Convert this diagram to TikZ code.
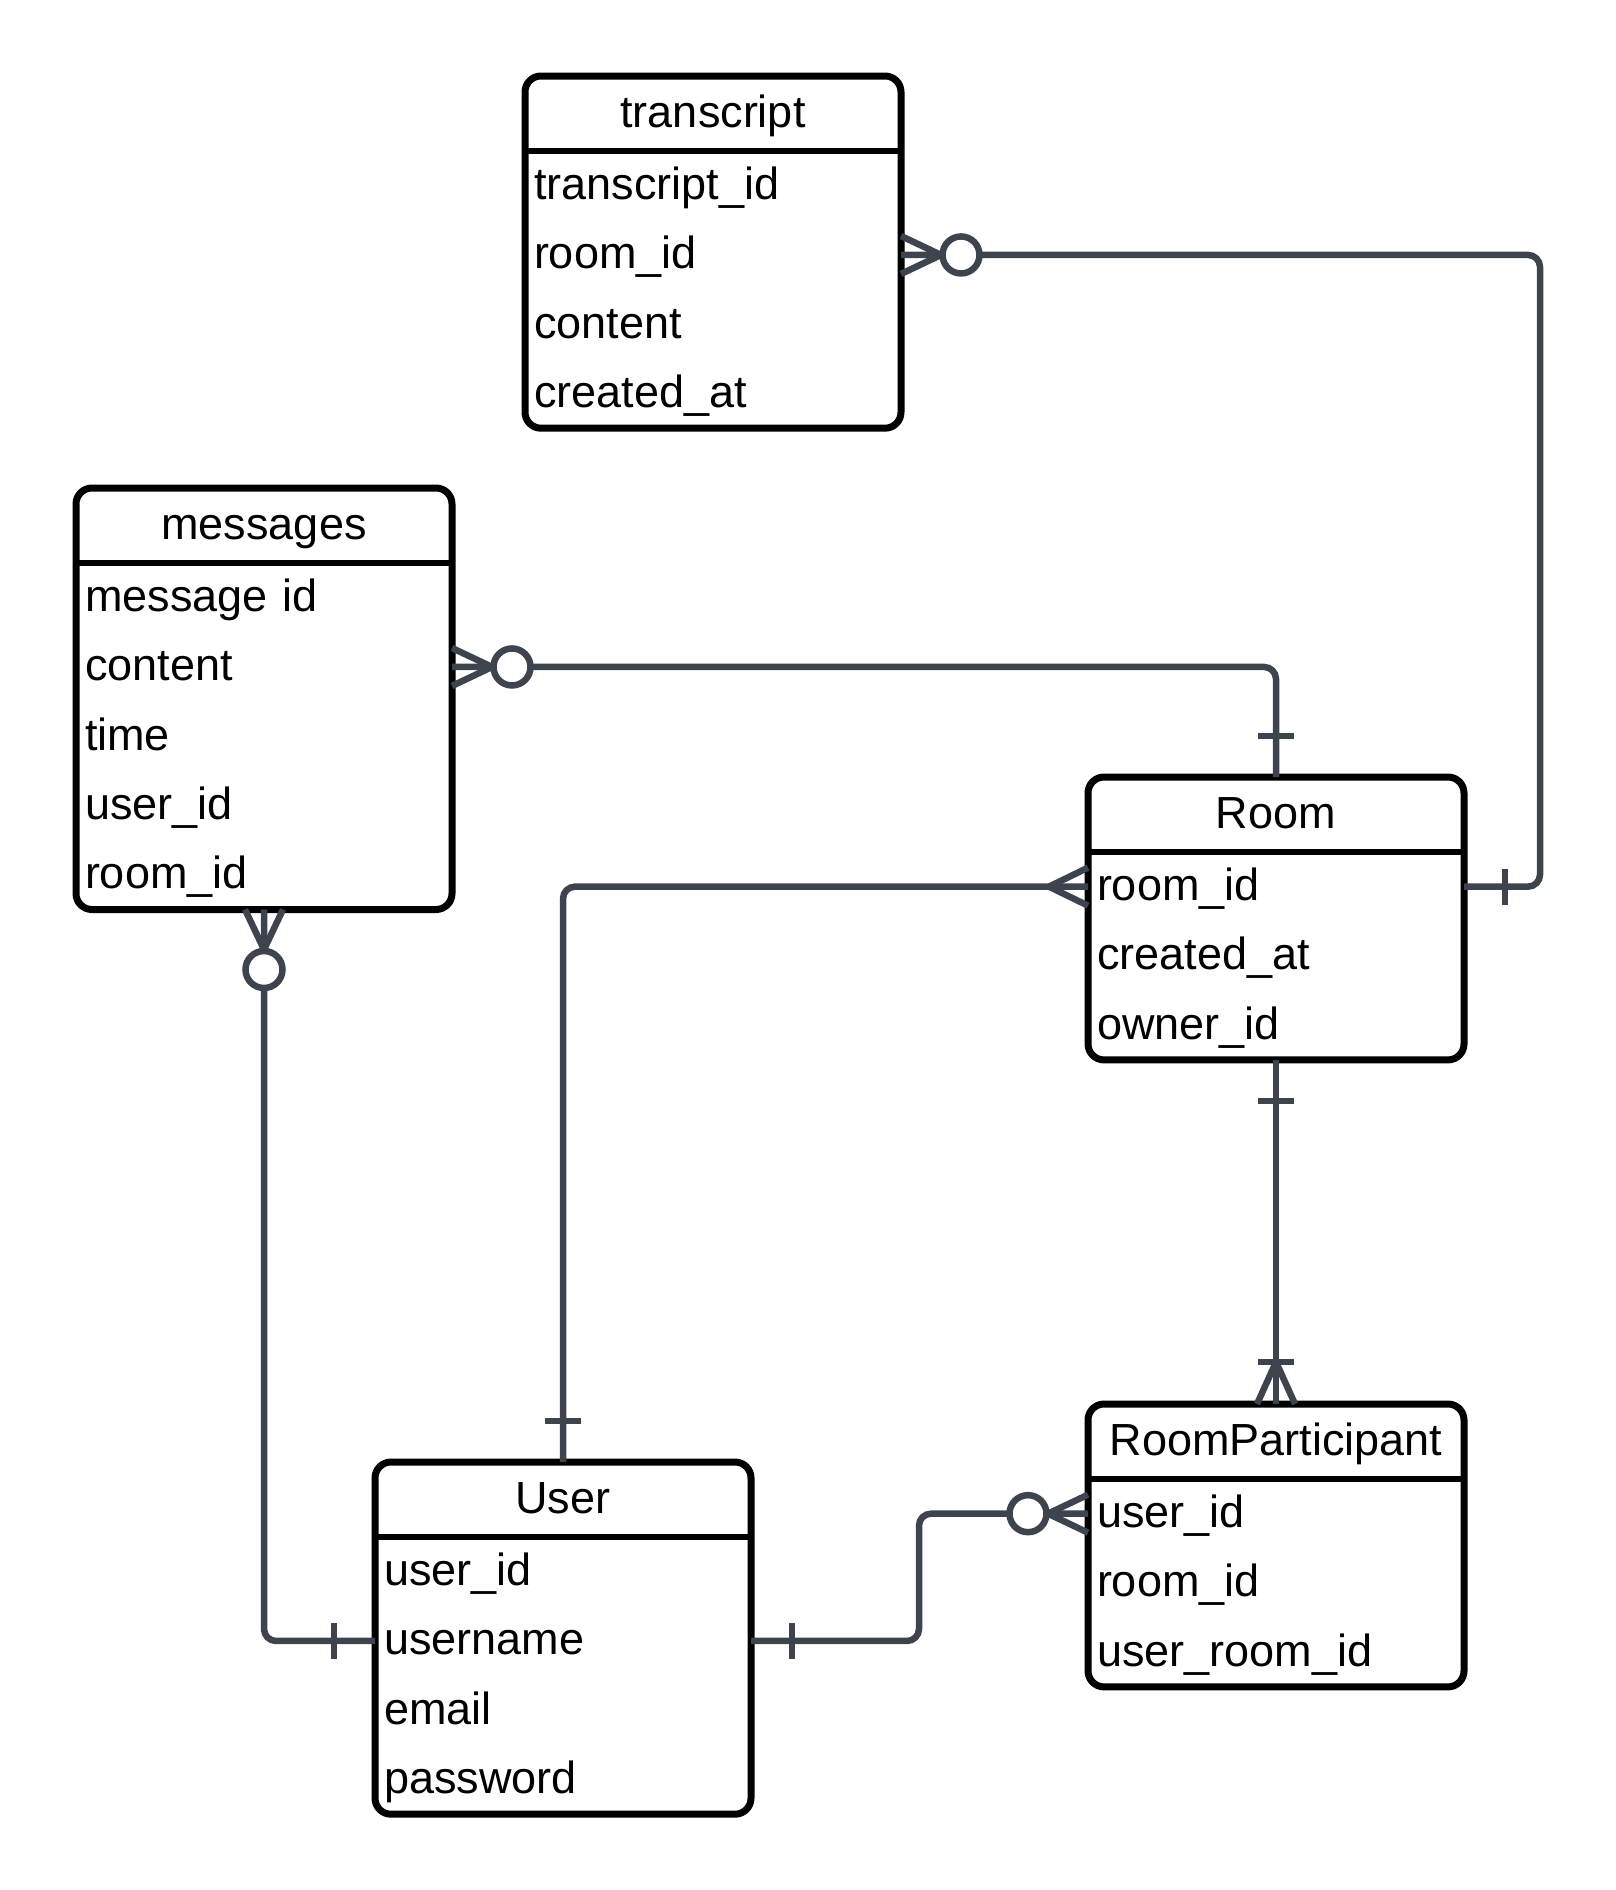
\documentclass[tikz,border=0pt]{standalone}
\usepackage{fontspec}
\setmainfont{Liberation Sans}
\usetikzlibrary{calc}
\definecolor{linkc}{HTML}{3E444E}

\tikzset{
  tbox/.style={draw, line width=7pt, rounded corners=16pt, fill=white,
    minimum width=376pt, inner sep=0pt, outer sep=0pt, anchor=north west},
  ttitle/.style={minimum height=75pt, text width=358pt, inner xsep=9pt,
    inner ysep=0pt, outer sep=0pt, text height=36pt, text depth=8pt,
    align=center, anchor=north west, font=\fontsize{45pt}{52pt}\selectfont},
  tfield/.style={ttitle, minimum height=69.3pt, align=left},
  link/.style={draw=linkc, line width=6.5pt},
  route/.style={link, rounded corners=12pt},
  crowone/.pic={\draw[link] (41,-18) -- (41,18);},
  crowmany/.pic={\draw[link] (0,-19) -- (39,0) -- (0,19);},
  crowzero/.pic={\draw[link] (0,-19) -- (40,0) -- (0,19);
    \draw[link, fill=white] (60,0) circle[radius=18.5pt];},
  crowonemany/.pic={\draw[link] (0,-19) -- (42,0) -- (0,19);
    \draw[link] (42,-18) -- (42,18);},
}

% #1 name, #2 corner, #3 title, #4 number of rows, #5 rows
\newcommand{\entitybox}[5]{%
  \node[tbox, minimum height={75pt+#4*69.3pt}] (#1) at #2 {};
  \node[ttitle] (#1-t) at (#1.north west) {#3};
  \draw[line width=6.5pt] ($(#1.north west)+(0,75)$) -- ($(#1.north east)+(0,75)$);
  \foreach \f [count=\i] in {#5}
    \node[tfield] (#1-\i) at ($(#1.north west)+(0,{75+(\i-1)*69.3})$) {\f};
}

\begin{document}
\begin{tikzpicture}[x=1pt, y=-1pt]
  \useasboundingbox (0,0) rectangle (1616,1890);

  % tables
  \entitybox{tr}{(525,76)}{transcript}{4}{transcript\_id, room\_id, content, created\_at}
  \entitybox{msg}{(76,488)}{messages}{5}{message id, content, time, user\_id, room\_id}
  \entitybox{room}{(1088,777)}{Room}{3}{room\_id, created\_at, owner\_id}
  \entitybox{rp}{(1088,1404)}{RoomParticipant}{3}{user\_id, room\_id, user\_room\_id}
  \entitybox{user}{(375,1462)}{User}{4}{user\_id, username, email, password}

  \coordinate (k1) at (1540,0);
  \coordinate (k2) at (919,0);

  % relations
  \draw[route] (tr-2.east) -| (k1 |- room-1.east) -- (room-1.east);
  \draw[route] (msg-2.east) -| (room.north);
  \draw[route] (msg.south) |- (user-2.west);
  \draw[route] (room-1.west) -| (user.north);
  \draw[route] (room.south) -- (rp.north);
  \draw[route] (user-2.east) -| (k2 |- rp-1.west) -- (rp-1.west);

  % ends
  \pic at (tr-2.east) {crowzero};
  \pic at (room-1.east) {crowone};
  \pic at (msg-2.east) {crowzero};
  \pic[rotate=90] at (room.north) {crowone};
  \pic[rotate=-90] at (msg.south) {crowzero};
  \pic[rotate=180] at (user-2.west) {crowone};
  \pic[rotate=180] at (room-1.west) {crowmany};
  \pic[rotate=90] at (user.north) {crowone};
  \pic[rotate=-90] at (room.south) {crowone};
  \pic[rotate=90] at (rp.north) {crowonemany};
  \pic at (user-2.east) {crowone};
  \pic[rotate=180] at (rp-1.west) {crowzero};
\end{tikzpicture}
\end{document}
